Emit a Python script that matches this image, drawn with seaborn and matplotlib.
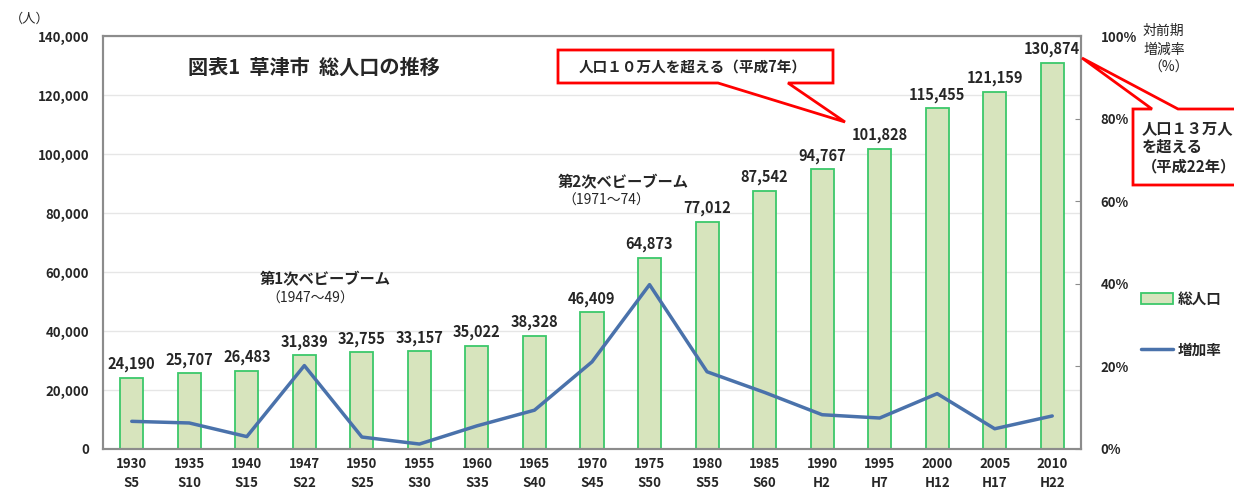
import numpy as np
import matplotlib
matplotlib.use("Agg")
import matplotlib.pyplot as plt
import seaborn as sns
from matplotlib.patches import Patch, Polygon
from matplotlib.lines import Line2D
from matplotlib.ticker import FuncFormatter, PercentFormatter

# data
years = ["1930", "1935", "1940", "1947", "1950", "1955", "1960", "1965", "1970",
         "1975", "1980", "1985", "1990", "1995", "2000", "2005", "2010"]
eras = ["S5", "S10", "S15", "S22", "S25", "S30", "S35", "S40", "S45",
        "S50", "S55", "S60", "H2", "H7", "H12", "H17", "H22"]
population = [24190, 25707, 26483, 31839, 32755, 33157, 35022, 38328, 46409,
              64873, 77012, 87542, 94767, 101828, 115455, 121159, 130874]
growth_rate = [6.7, 6.3, 3.0, 20.2, 2.9, 1.2, 5.6, 9.4, 21.1,
               39.8, 18.7, 13.7, 8.3, 7.5, 13.4, 4.9, 8.0]
x_labels = [f"{y}\n{e}" for y, e in zip(years, eras)]

sns.set_style("white")
plt.rcParams['font.family'] = ['Noto Sans CJK JP', 'DejaVu Sans']
plt.rcParams['font.weight'] = 'bold'

W, H = 1234, 492
fig = plt.figure(figsize=(W / 100, H / 100), dpi=100)
ax = fig.add_axes([103 / W, 1 - 449 / H, (1081 - 103) / W, (449 - 36) / H])

bar_fill = "#D7E4BD"
bar_edge = "#3CC86A"
line_col = "#4A72AB"
frame_col = "#8C8C8C"

sns.barplot(x=x_labels, y=population, ax=ax, color=bar_fill, width=0.4,
            edgecolor=bar_edge, linewidth=1.3, saturation=1, zorder=2)
ax.bar_label(ax.containers[0], labels=[f"{v:,}" for v in population],
             padding=4, fontsize=10.5, fontweight='bold')

ax.set_ylim(0, 140000)
ax.set_yticks(np.arange(0, 140001, 20000))
ax.yaxis.set_major_formatter(FuncFormatter(lambda v, p: f"{int(v):,}"))
ax.grid(axis='y', color="#E6E6E6", linewidth=1, zorder=0)
ax.set_axisbelow(True)
ax.tick_params(axis='both', length=0, labelsize=9.5, pad=10)
ax.tick_params(axis='x', pad=6)
for lab in ax.get_xticklabels():
    lab.set_linespacing(1.45)
    lab.set_fontweight('bold')
for lab in ax.get_yticklabels():
    lab.set_fontweight('bold')
for s in ax.spines.values():
    s.set_color(frame_col)
    s.set_linewidth(1.5)

ax2 = ax.twinx()
sns.lineplot(x=np.arange(len(growth_rate)), y=growth_rate, ax=ax2,
             color=line_col, linewidth=2.5, zorder=3)
ax2.set_ylim(0, 100)
ax2.set_yticks(np.arange(0, 101, 20))
ax2.yaxis.set_major_formatter(PercentFormatter(100, decimals=0))
ax2.tick_params(axis='y', direction='in', length=4, color=frame_col,
                labelsize=9.5, pad=14)
for lab in ax2.get_yticklabels():
    lab.set_fontweight('bold')
for s in ax2.spines.values():
    s.set_color(frame_col)
    s.set_linewidth(1.5)
ax.set_xlim(-0.5, len(years) - 0.5)

# texts
def fx(px):
    return px / W

def fy(py):
    return 1 - py / H

fig.text(fx(10), fy(19), "（人）", fontsize=9.5, fontweight='normal', va='center')
fig.text(fx(1143), fy(31), "対前期", fontsize=10, fontweight='normal', va='center')
fig.text(fx(1143), fy(50), "増減率", fontsize=10, fontweight='normal', va='center')
fig.text(fx(1148), fy(68), "（%）", fontsize=10, fontweight='normal', va='center')
fig.text(fx(188), fy(67), "図表1  草津市  総人口の推移", fontsize=14.5,
         fontweight='bold', va='center')
fig.text(fx(260), fy(279), "第1次ベビーブーム", fontsize=11, va='center')
fig.text(fx(266), fy(299), "（1947～49）", fontsize=10, fontweight='normal', va='center')
fig.text(fx(558), fy(182), "第2次ベビーブーム", fontsize=11, va='center')
fig.text(fx(562), fy(201), "（1971～74）", fontsize=10, fontweight='normal', va='center')

# callouts
def callout(pts):
    poly = Polygon([(fx(px), fy(py)) for px, py in pts], closed=True,
                   transform=fig.transFigure, facecolor='white',
                   edgecolor='#FF0000', linewidth=2, clip_on=False, zorder=5)
    fig.add_artist(poly)

callout([(558, 50), (833, 50), (833, 83), (788, 83), (845, 122),
         (718, 83), (558, 83)])
fig.text(fx(693), fy(67), "人口１０万人を超える（平成7年）", fontsize=10.5,
         ha='center', va='center', zorder=6)

callout([(1133, 109), (1152, 109), (1082, 58), (1178, 109), (1245, 109),
         (1245, 185), (1133, 185)])
fig.text(fx(1142), fy(147), "人口１３万人\nを超える\n（平成22年）", fontsize=11,
         ha='left', va='center', linespacing=1.25, zorder=6)

# legend
handles = [Patch(facecolor=bar_fill, edgecolor=bar_edge, linewidth=1.3),
           Line2D([0], [0], color=line_col, linewidth=2.5)]
fig.legend(handles, ["総人口", "増加率"], loc='center left',
           bbox_to_anchor=(fx(1128), fy(324)), frameon=False, fontsize=10.5,
           handlelength=2.2, handletextpad=0.3, labelspacing=2.4)

fig.savefig("out.png", dpi=100)
